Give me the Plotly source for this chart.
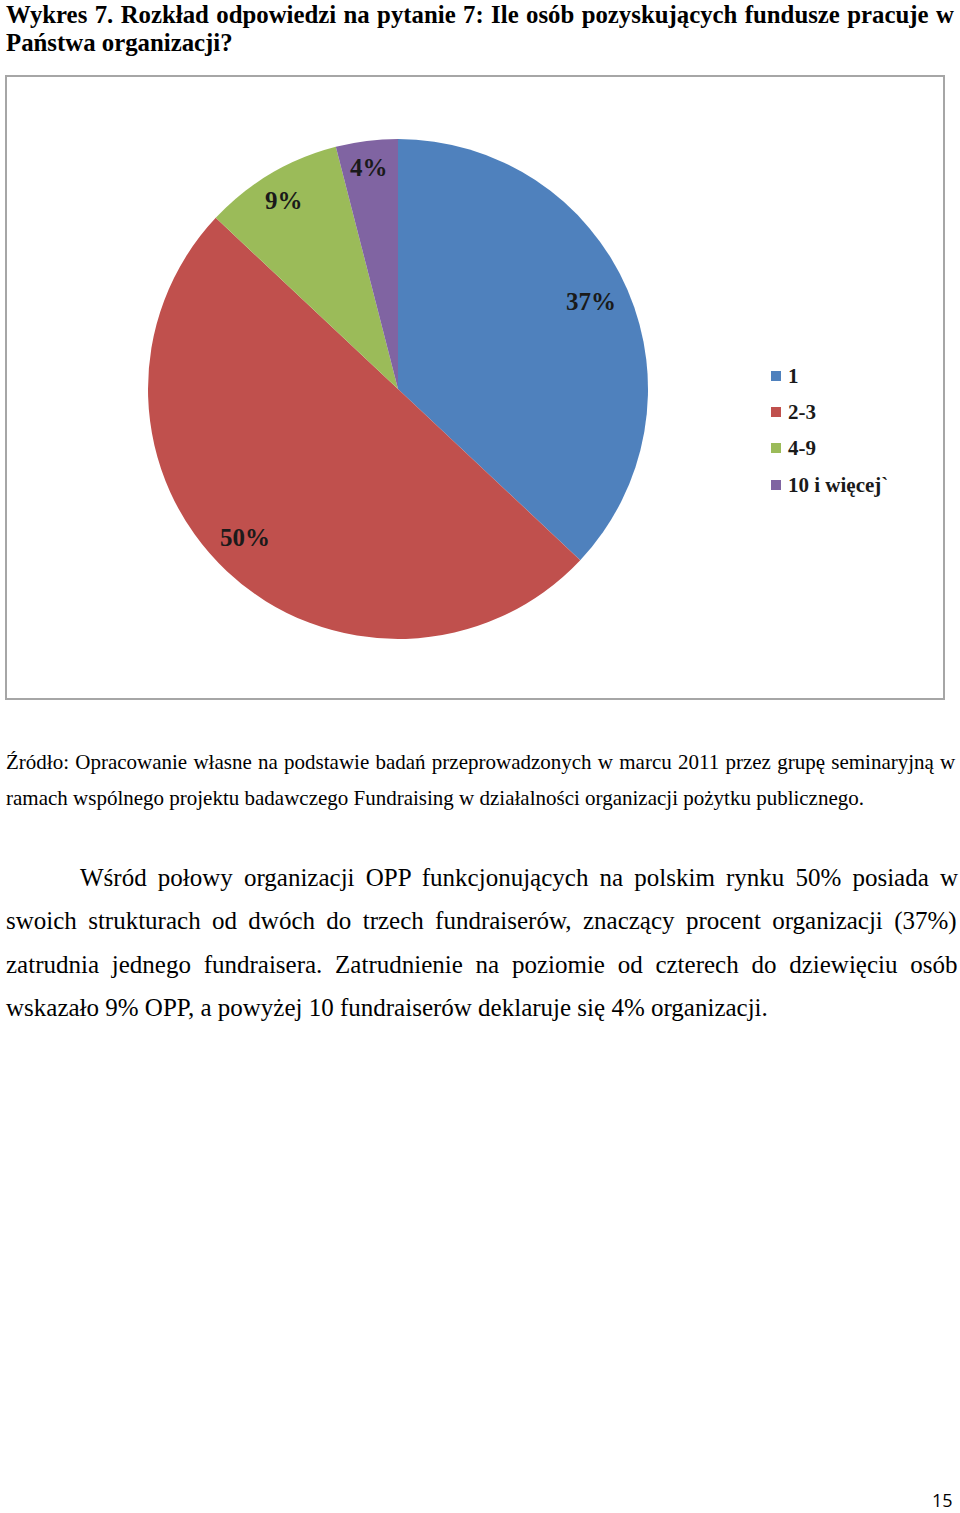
import plotly.graph_objects as go

W, H = 960, 1513

categories = ["1", "2-3", "4-9", "10 i więcej`"]
values = [37, 50, 9, 4]
colors = ["#4f81bd", "#c0504d", "#9bbb59", "#8064a2"]

title_lines = [
    "Wykres 7. Rozkład odpowiedzi na pytanie 7: Ile osób pozyskujących fundusze pracuje w",
    "Państwa organizacji?",
]
source_lines = [
    "Źródło: Opracowanie własne na podstawie badań przeprowadzonych w marcu 2011 przez grupę seminaryjną w",
    "ramach wspólnego projektu badawczego Fundraising w działalności organizacji pożytku publicznego.",
]
para_lines = [
    "Wśród połowy organizacji OPP funkcjonujących na polskim rynku 50% posiada w",
    "swoich strukturach od dwóch do trzech fundraiserów, znaczący procent organizacji (37%)",
    "zatrudnia jednego fundraisera. Zatrudnienie na poziomie od czterech do dziewięciu osób",
    "wskazało 9% OPP, a powyżej 10 fundraiserów deklaruje się 4% organizacji.",
]
page_number = "15"

def px(x):
    return x / W

def py(y):
    return 1 - y / H

def spaced(t, ws):
    if ws == 0:
        return t
    return f'<span style="word-spacing:{ws}px">{t}</span>'

# pie geometry (page pixels)
cx, cy, r = 398, 389, 250

fig = go.Figure()
fig.add_trace(go.Pie(
    labels=categories,
    values=values,
    marker=dict(colors=colors, line=dict(width=0)),
    sort=False,
    direction="clockwise",
    rotation=0,
    textinfo="none",
    hoverinfo="label+percent",
    showlegend=False,
    domain=dict(x=[px(cx - r), px(cx + r)], y=[py(cy + r), py(cy - r)]),
))

annotations = []
shapes = []

# chart frame
shapes.append(dict(type="rect", xref="paper", yref="paper",
                   x0=px(6), x1=px(944), y0=py(699), y1=py(76),
                   line=dict(color="#a6a6a6", width=2), fillcolor="rgba(0,0,0,0)",
                   layer="below"))

# slice labels
label_pos = [(591, 302), (245, 538), (284, 200), (369, 167)]
for v, (lx, ly) in zip(values, label_pos):
    annotations.append(dict(x=px(lx), y=py(ly), xref="paper", yref="paper",
                            text=f"<b>{v}%</b>", showarrow=False,
                            font=dict(family="Liberation Serif", size=25, color="#1a1a1a"),
                            xanchor="center", yanchor="middle"))

# legend (manual)
leg_y = [376, 412, 448, 485]
for cat, col, ly in zip(categories, colors, leg_y):
    shapes.append(dict(type="rect", xref="paper", yref="paper",
                       x0=px(771), x1=px(781), y0=py(ly + 5), y1=py(ly - 5),
                       fillcolor=col, line=dict(width=0)))
    annotations.append(dict(x=px(786), y=py(ly), xref="paper", yref="paper",
                            text=f"<b>{cat}</b>", showarrow=False,
                            font=dict(family="Liberation Serif", size=21, color="#1a1a1a"),
                            xanchor="left", yanchor="middle"))

# title
title_ws = [1.2, 0]
for i, (t, ws) in enumerate(zip(title_lines, title_ws)):
    annotations.append(dict(x=px(4), y=py(14 + i * 28), xref="paper", yref="paper",
                            text=f"<b>{spaced(t, ws)}</b>", showarrow=False,
                            font=dict(family="Liberation Serif", size=24.8, color="#000000"),
                            xanchor="left", yanchor="middle"))

# source
source_ws = [1, 0]
for i, (t, ws) in enumerate(zip(source_lines, source_ws)):
    annotations.append(dict(x=px(4), y=py(762 + i * 36), xref="paper", yref="paper",
                            text=spaced(t, ws), showarrow=False,
                            font=dict(family="Liberation Serif", size=21, color="#000000"),
                            xanchor="left", yanchor="middle"))

# paragraph (justified lines approximated with word spacing)
para_x = [78, 4, 4, 4]
para_ws = [4.9, 5.1, 6.5, 0]
for i, (t, xx, ws) in enumerate(zip(para_lines, para_x, para_ws)):
    annotations.append(dict(x=px(xx), y=py(878 + i * 43.3), xref="paper", yref="paper",
                            text=spaced(t, ws), showarrow=False,
                            font=dict(family="Liberation Serif", size=25, color="#000000"),
                            xanchor="left", yanchor="middle"))

annotations.append(dict(x=px(955), y=py(1500), xref="paper", yref="paper",
                        text=page_number, showarrow=False,
                        font=dict(family="Open Sans", size=18, color="#000000"),
                        xanchor="right", yanchor="middle"))

fig.update_layout(
    width=W, height=H,
    margin=dict(l=0, r=0, t=0, b=0),
    paper_bgcolor="white", plot_bgcolor="white",
    annotations=annotations, shapes=shapes,
    showlegend=False,
)

fig.write_html("out.html",
               config={"displayModeBar": False},
               post_script="document.body.style.margin='0';document.body.style.overflow='hidden';")
